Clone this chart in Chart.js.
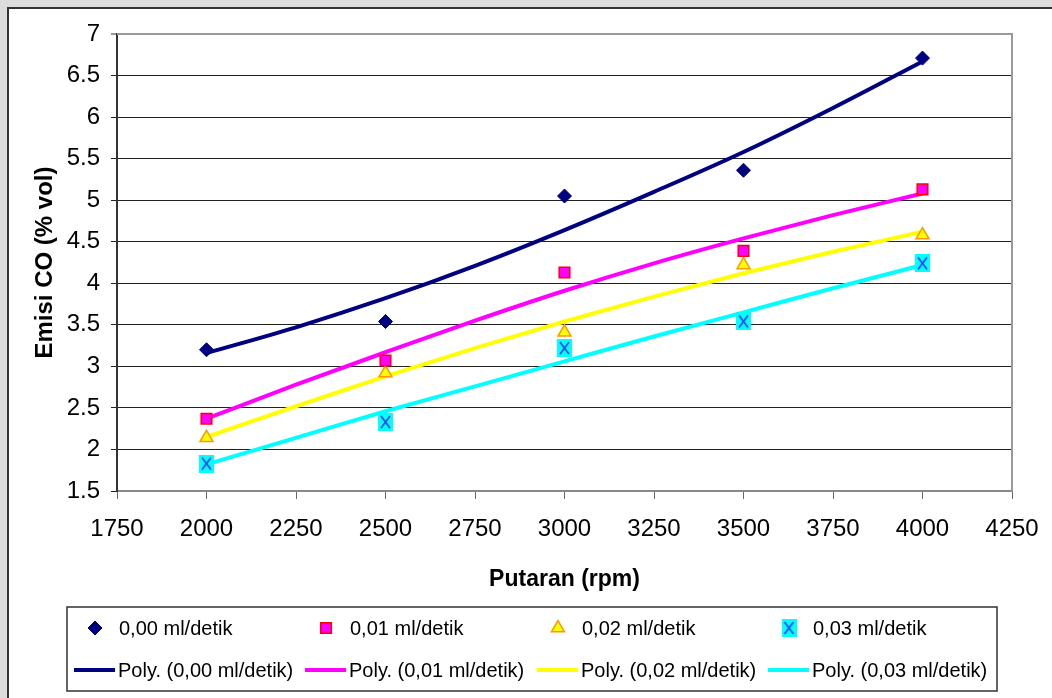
<!DOCTYPE html>
<html>
<head>
<meta charset="utf-8">
<script src="https://cdn.jsdelivr.net/npm/chart.js@4.4.1/dist/chart.umd.min.js"></script>
<style>
  html, body { margin: 0; padding: 0; background: #dcdcdc; overflow: hidden; }
  canvas { display: block; }
</style>
</head>
<body>
<canvas id="chart1" width="1052" height="698"></canvas>
<script>
// values
const rpm = [2000, 2500, 3000, 3500, 4000];
const co000 = [3.2, 3.54, 5.05, 5.36, 6.71];
const co001 = [2.37, 3.07, 4.13, 4.39, 5.13];
const co002 = [2.14, 2.92, 3.41, 4.22, 4.58];
const co003 = [1.83, 2.33, 3.22, 3.54, 4.24];
// trendlines (Poly.) as seen in the picture
const polyRpm = [2000, 2250, 2500, 2750, 3000, 3250, 3500, 3750, 4000];
const poly000 = [3.16, 3.47, 3.82, 4.21, 4.64, 5.10, 5.58, 6.11, 6.67];
const poly001 = [2.37, 2.78, 3.17, 3.55, 3.91, 4.24, 4.54, 4.82, 5.08];
const poly002 = [2.15, 2.52, 2.88, 3.22, 3.54, 3.84, 4.12, 4.38, 4.62];
const poly003 = [1.82, 2.14, 2.46, 2.76, 3.06, 3.36, 3.65, 3.94, 4.22];
const seriesNames = ['0,00 ml/detik', '0,01 ml/detik', '0,02 ml/detik', '0,03 ml/detik'];
const xMin = 1750, xMax = 4250, xStep = 250;
const yMin = 1.5, yMax = 7, yStep = 0.5;

const FONT = "'Liberation Sans', Arial, sans-serif";
Chart.defaults.font.family = FONT;
Chart.defaults.color = '#000';

// cyan box with a blue X, used for the 0,03 series
function makeXMarker() {
    const c = document.createElement('canvas');
    c.width = 15; c.height = 18;
    const g = c.getContext('2d');
    g.fillStyle = '#00ffff';
    g.fillRect(0, 0, 15, 18);
    g.strokeStyle = '#3b3bff';
    g.lineWidth = 1.6;
    g.beginPath();
    g.moveTo(3, 3); g.lineTo(12, 15);
    g.moveTo(12, 3); g.lineTo(3, 15);
    g.stroke();
    return c;
}
const xMarker = makeXMarker();

const pts = (xs, ys) => xs.map((x, i) => ({ x: x, y: ys[i] }));

const pointSets = [
    { label: seriesNames[0], data: pts(rpm, co000), pointStyle: 'rectRot', pointRadius: 7,
      backgroundColor: '#000080', borderColor: '#000080', pointBorderWidth: 1 },
    { label: seriesNames[1], data: pts(rpm, co001), pointStyle: 'rect', pointRadius: 7.5,
      backgroundColor: '#ff00ff', borderColor: '#ff0000', pointBorderWidth: 1.5 },
    { label: seriesNames[2], data: pts(rpm, co002), pointStyle: 'triangle', pointRadius: 7.5,
      backgroundColor: '#ffff00', borderColor: '#ff9900', pointBorderWidth: 1.5 },
    { label: seriesNames[3], data: pts(rpm, co003), pointStyle: xMarker, pointRadius: 8,
      backgroundColor: '#00ffff', borderColor: '#3b3bff', pointBorderWidth: 0 }
].map(d => Object.assign({ showLine: false, pointHoverRadius: d.pointRadius }, d));

const lineColors = ['#000080', '#ff00ff', '#ffff00', '#00ffff'];
const lineSets = [poly000, poly001, poly002, poly003].map((ys, i) => ({
    label: 'Poly. (' + seriesNames[i] + ')',
    data: pts(polyRpm, ys),
    showLine: true,
    borderColor: lineColors[i],
    backgroundColor: lineColors[i],
    borderWidth: 4,
    pointRadius: 0,
    cubicInterpolationMode: 'monotone'
}));

const background = {
    id: 'background',
    beforeDraw(chart) {
        const ctx = chart.ctx;
        ctx.save();
        ctx.fillStyle = '#dcdcdc';
        ctx.fillRect(0, 0, chart.width, chart.height);
        ctx.fillStyle = '#fff';
        ctx.fillRect(8, 8, chart.width, chart.height);
        ctx.strokeStyle = '#333';
        ctx.lineWidth = 2;
        ctx.beginPath();
        ctx.moveTo(8, chart.height); ctx.lineTo(8, 8); ctx.lineTo(chart.width, 8);
        ctx.stroke();
        ctx.restore();
    },
    afterDatasetsDraw(chart) {
        const a = chart.chartArea, ctx = chart.ctx;
        ctx.save();
        ctx.strokeStyle = '#999';
        ctx.lineWidth = 2;
        ctx.beginPath();
        ctx.moveTo(a.left, a.top); ctx.lineTo(a.right, a.top); ctx.lineTo(a.right, a.bottom);
        ctx.stroke();
        ctx.restore();
    }
};

const legendBox = {
    id: 'legendBox',
    afterDraw(chart) {
        const ctx = chart.ctx;
        const cols = [74, 305, 537, 768];
        ctx.save();
        ctx.strokeStyle = '#333';
        ctx.lineWidth = 1.5;
        ctx.strokeRect(67, 607, 930, 84);
        ctx.font = '20px ' + FONT;
        ctx.textBaseline = 'middle';
        ctx.textAlign = 'left';
        pointSets.forEach((d, i) => {
            ctx.fillStyle = d.backgroundColor;
            ctx.strokeStyle = d.borderColor;
            ctx.lineWidth = d.pointBorderWidth;
            Chart.helpers.drawPoint(ctx, {
                pointStyle: d.pointStyle, radius: d.pointRadius, rotation: 0,
                borderWidth: d.pointBorderWidth
            }, cols[i] + 21, 628);
            ctx.fillStyle = '#000';
            ctx.fillText(d.label, cols[i] + 45, 629);
        });
        lineSets.forEach((d, i) => {
            ctx.strokeStyle = d.borderColor;
            ctx.lineWidth = 4;
            ctx.beginPath();
            ctx.moveTo(cols[i], 670); ctx.lineTo(cols[i] + 41, 670);
            ctx.stroke();
            ctx.fillStyle = '#000';
            ctx.fillText(d.label, cols[i] + 44, 671);
        });
        ctx.restore();
    }
};

new Chart('chart1', {
    type: 'scatter',
    data: { datasets: pointSets.concat(lineSets) },
    options: {
        responsive: false,
        animation: false,
        devicePixelRatio: 1,
        layout: { padding: { left: 0, top: 34, right: 40, bottom: 103 } },
        plugins: { legend: { display: false }, tooltip: { enabled: false } },
        scales: {
            x: {
                type: 'linear', min: xMin, max: xMax,
                afterFit: (s) => { s.height = 104; s.paddingLeft = 0; s.paddingRight = 0; },
                ticks: { stepSize: xStep, padding: 16, maxRotation: 0,
                         font: { size: 24 }, callback: (v) => String(v) },
                grid: { drawOnChartArea: false, tickLength: 8, color: '#666', lineWidth: 1 },
                border: { color: '#888', width: 2 },
                title: { display: true, text: 'Putaran (rpm)', padding: { top: 2, bottom: 2 },
                         font: { size: 23, weight: 'bold' } }
            },
            y: {
                min: yMin, max: yMax,
                afterFit: (s) => { s.width = 117; s.paddingTop = 0; s.paddingBottom = 0; },
                ticks: { stepSize: yStep, padding: 11, font: { size: 24 },
                         callback: (v) => String(v) },
                grid: {
                    tickLength: 6,
                    color: (c) => c.tick && c.tick.value === yMax ? '#999' : '#222',
                    lineWidth: (c) => c.tick && c.tick.value === yMax ? 2 : 1
                },
                border: { color: '#333', width: 2 },
                title: { display: true, text: 'Emisi CO (% vol)', padding: { top: 31, bottom: 31 },
                         font: { size: 24, weight: 'bold' } }
            }
        }
    },
    plugins: [background, legendBox]
});
</script>
</body>
</html>
